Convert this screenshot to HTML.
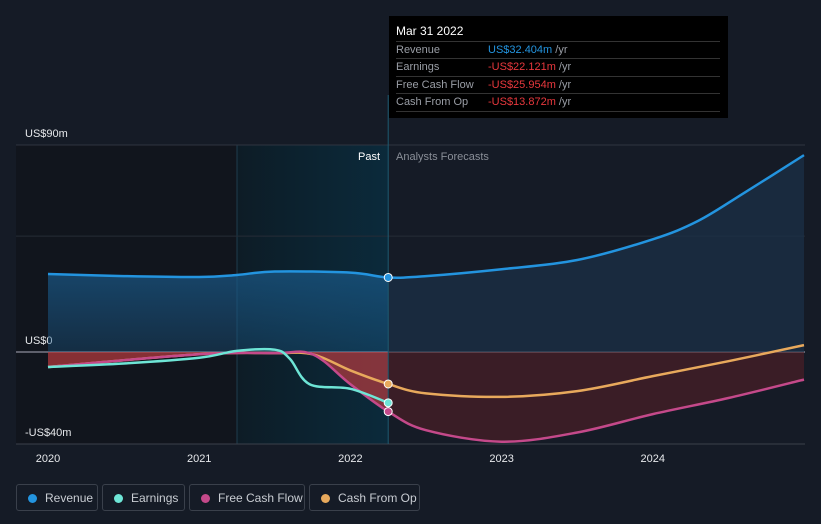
<!DOCTYPE html>
<html><head><meta charset="utf-8"><style>
body{margin:0;background:#151b26;width:821px;height:524px;overflow:hidden;font-family:"Liberation Sans",sans-serif}
#tt{position:absolute;left:389px;top:16px;width:339px;height:102px;background:#000;color:#fff;font-size:11px}
.row{position:absolute;left:7px;width:324px;border-top:1px solid #333;height:17px;line-height:17px;color:#9a9ea6}
.row span{position:absolute;left:92px}
.leg{position:absolute;top:484px;height:27px;border:1px solid #3a404b;border-radius:3px;color:#c8ccd2;font-size:12px;line-height:27px;box-sizing:border-box}
.leg i{position:absolute;left:11px;top:9px;width:9px;height:9px;border-radius:50%}
.leg b{font-weight:normal;position:absolute;left:28px}
</style></head><body>
<svg id="chart" width="821" height="524" style="position:absolute;left:0;top:0"></svg>
<div id="tt">
<div style="position:absolute;left:7px;top:8px;font-size:12px">Mar 31 2022</div>
<div class="row" style="top:25px">Revenue<span><span style="position:static;color:#2394df">US$32.404m</span> /yr</span></div>
<div class="row" style="top:42px">Earnings<span><span style="position:static;color:#e8383d">-US$22.121m</span> /yr</span></div>
<div class="row" style="top:60px">Free Cash Flow<span><span style="position:static;color:#e8383d">-US$25.954m</span> /yr</span></div>
<div class="row" style="top:77px;border-bottom:1px solid #333">Cash From Op<span><span style="position:static;color:#e8383d">-US$13.872m</span> /yr</span></div>
</div>
<div class="leg" style="left:16px;width:82px"><i style="background:#2394df"></i><b>Revenue</b></div>
<div class="leg" style="left:102px;width:83px"><i style="background:#6ee5d6"></i><b>Earnings</b></div>
<div class="leg" style="left:189px;width:116px"><i style="background:#c4498a"></i><b>Free Cash Flow</b></div>
<div class="leg" style="left:309px;width:111px"><i style="background:#e8a95c"></i><b>Cash From Op</b></div>
<script>
const revX=[2020,2020.5,2021,2021.25,2021.5,2022,2022.25,2022.5,2023,2023.5,2024,2024.3,2024.6,2025];
const revY=[33.9,33,32.6,33.5,35,34.5,32.4,33,36,40,49,57,69,85.6];
const earnX=[2020,2020.5,2021,2021.25,2021.5,2021.6,2021.73,2022,2022.25];
const earnY=[-6.5,-5,-2.5,0.5,1,-3,-14,-16,-22.1];
const fcfX=[2020,2021,2021.5,2021.75,2022,2022.25,2022.5,2023,2023.5,2024,2024.5,2025];
const fcfY=[-6.5,-1,-0.5,-1,-14,-25.9,-34,-39,-35,-27,-20,-12];
const cfoX=[2020,2021,2021.5,2021.75,2022,2022.25,2022.5,2023,2023.5,2024,2024.5,2025];
const cfoY=[-6.5,-1,-0.5,-1,-8,-13.9,-18,-19.5,-17,-10.5,-4,3];
const yTicks=[90,0,-40];const yLabels=["US$90m","US$0","-US$40m"];
const xTicks=[2020,2021,2022,2023,2024];
const X=t=>48+(t-2020)*151.2, Y=v=>352-v*2.3;
const NS="http://www.w3.org/2000/svg",svg=document.getElementById('chart');
function el(tag,a,parent){const e=document.createElementNS(NS,tag);for(const k in a)e.setAttribute(k,a[k]);(parent||svg).appendChild(e);return e;}
function path(xs,ys){const p=xs.map((x,i)=>[X(x),Y(ys[i])]);let d=`M${p[0][0]},${p[0][1]}`;
for(let i=0;i<p.length-1;i++){const p0=p[i-1]||p[i],p1=p[i],p2=p[i+1],p3=p[i+2]||p2;
d+=` C${p1[0]+(p2[0]-p0[0])/6},${p1[1]+(p2[1]-p0[1])/6} ${p2[0]-(p3[0]-p1[0])/6},${p2[1]-(p3[1]-p1[1])/6} ${p2[0]},${p2[1]}`;}return d;}
const defs=el('defs',{});
const g1=el('linearGradient',{id:'gb',x1:0,y1:0,x2:0,y2:1},defs);
el('stop',{offset:0,'stop-color':'#1a5a8a','stop-opacity':0.7},g1);el('stop',{offset:1,'stop-color':'#1a5a8a','stop-opacity':0.35},g1);
const g2=el('linearGradient',{id:'gp',x1:0,y1:0,x2:1,y2:0},defs);
el('stop',{offset:0,'stop-color':'#0d1c26'},g2);el('stop',{offset:1,'stop-color':'#0b2a3b'},g2);
el('rect',{x:16,y:145,width:221,height:299,fill:'#11151d'});
let r=el('rect',{x:237,y:145,width:151,height:299,fill:'url(#gp)'});

el('line',{x1:237,y1:145,x2:237,y2:444,stroke:'#1e3d4d'});
yTicks.forEach((v,i)=>{let l=el('line',{x1:16,x2:805,y1:Y(v),y2:Y(v),stroke:v==0?'#aab':'#2e3440','stroke-width':1});

let t=el('text',{x:25,y:Y(v)-8,fill:'#e6e8eb','font-size':11});t.textContent=yLabels[i];
});
el('line',{x1:16,x2:805,y1:Y(50.4),y2:Y(50.4),stroke:'#262c37'});
el('line',{x1:16,x2:805,y1:444,y2:444,stroke:'#3a404b'});
const nP=revX.filter(x=>x<=2022.25).length;
let a=el('path',{d:path(revX.slice(0,nP),revY.slice(0,nP))+` L${X(2022.25)},${Y(0)} L${X(2020)},${Y(0)} Z`,fill:'url(#gb)'});

a=el('path',{d:path(revX.slice(nP-1),revY.slice(nP-1))+` L${X(2025)},${Y(0)} L${X(2022.25)},${Y(0)} Z`,fill:'#1b3048','fill-opacity':0.7});

const fP=fcfX.filter(x=>x<=2022.25).length;
a=el('path',{d:path(fcfX.slice(0,fP),fcfY.slice(0,fP))+` L${X(2022.25)},${Y(0)} L${X(2020)},${Y(0)} Z`,fill:'#b83a3f','fill-opacity':0.7});

a=el('path',{d:path(fcfX.slice(fP-1),fcfY.slice(fP-1))+` L${X(2025)},${Y(0)} L${X(2022.25)},${Y(0)} Z`,fill:'#5a1f27','fill-opacity':0.55});

el('line',{x1:X(2022.25),x2:X(2022.25),y1:95,y2:444,stroke:'#1d5a72'});
[[revX,revY,'#2394df','revenue-line'],[cfoX,cfoY,'#e8a95c','cash-from-op-line'],[fcfX,fcfY,'#c4498a','free-cash-flow-line'],[earnX,earnY,'#6ee5d6','earnings-line']].forEach(s=>{
let p=el('path',{d:path(s[0],s[1]),fill:'none',stroke:s[2],'stroke-width':2.5});

const i=s[0].indexOf(2022.25);let c=el('circle',{cx:X(2022.25),cy:Y(s[1][i]),r:4,fill:s[2],stroke:'#fff','stroke-width':1});
});
xTicks.forEach(t=>{let tx=el('text',{x:X(t),y:462,fill:'#e6e8eb','font-size':11,'text-anchor':'middle'});tx.textContent=t;
});
let t=el('text',{x:380,y:160,fill:'#fff','font-size':11,'text-anchor':'end'});t.textContent='Past';

t=el('text',{x:396,y:160,fill:'#8a8f98','font-size':11});t.textContent='Analysts Forecasts';

</script>
</body></html>
